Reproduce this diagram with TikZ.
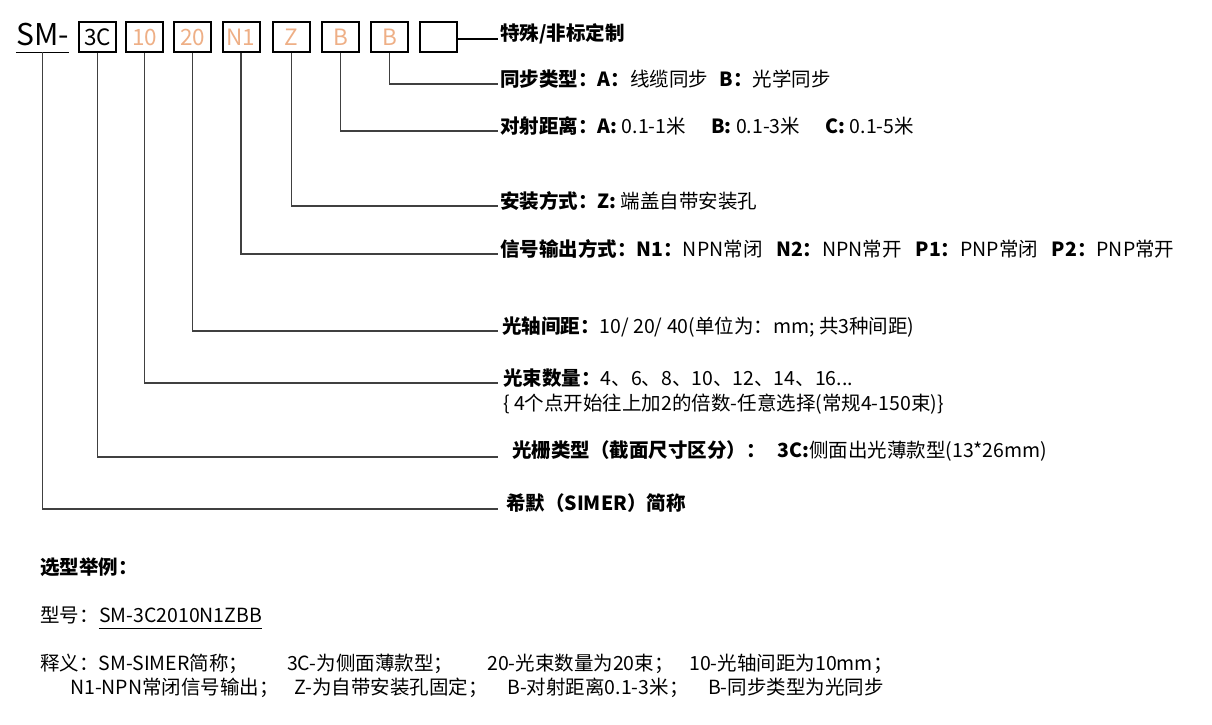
\documentclass[tikz,border=0pt]{standalone}
\usepackage{fontspec}
\setmainfont{Noto Sans CJK SC}
\usetikzlibrary{positioning}
\definecolor{codeor}{RGB}{238,175,134}
\definecolor{leadgr}{RGB}{64,64,64}
\tikzset{
  codebox/.style={draw=black, line width=2pt, minimum width=37pt, minimum height=30pt, inner sep=0pt, text=codeor, font=\fontsize{22.5}{22.5}\selectfont},
  lead/.style={draw=leadgr, line width=1.5pt},
  lab/.style={anchor=base west, inner sep=0pt, font=\fontsize{19.5}{24}\selectfont},
}
\begin{document}
\begin{tikzpicture}[x=1pt, y=-1pt]
  \useasboundingbox (0,0) rectangle (1212,725);
  % model code
  \node[inner sep=0pt, anchor=base, font=\fontsize{30}{30}\selectfont] (sm) at (42.5,46) {SM-};
  \draw[line width=1.5pt] ([yshift=-6.5pt]sm.base west) -- ([yshift=-6.5pt]sm.base east);
  \node[codebox, text=black] (b1) at (97.5,37) {3C};
  \node[codebox] (b2) at (144.5,37) {10};
  \node[codebox] (b3) at (192.5,37) {20};
  \node[codebox] (b4) at (241,37) {N1};
  \node[codebox] (b5) at (291.5,37) {Z};
  \node[codebox] (b6) at (340.5,37) {B};
  \node[codebox] (b7) at (389.5,37) {B};
  \node[codebox] (b8) at (438,37) {};

  % line ends
  \coordinate (e0) at (498,39);
  \coordinate (e1) at (498,84);
  \coordinate (e2) at (498,131);
  \coordinate (e3) at (498,206);
  \coordinate (e4) at (498,254);
  \coordinate (e5) at (498,331);
  \coordinate (e6) at (498,383);
  \coordinate (e7) at (498,457);
  \coordinate (e8) at (498,509);

  \draw[line width=1.5pt] (b8.east |- e0) -- (e0);
  \draw[lead] (b7.south) |- (e1);
  \draw[lead] (b6.south) |- (e2);
  \draw[lead] (b5.south) |- (e3);
  \draw[lead] (b4.south) |- (e4);
  \draw[lead] (b3.south) |- (e5);
  \draw[lead] (b2.south) |- (e6);
  \draw[lead] (b1.south) |- (e7);
  \draw[lead] ([yshift=-6.5pt]sm.base) |- (e8);

  % labels
  \node[lab] (t0) at (500,41) {\bfseries 特殊/非标定制};
  \node[lab] (t1) at (500,86) {\textbf{同步类型：A：}线缆同步\hspace{.6em}\textbf{B：}光学同步};
  \node[lab] (t2) at (500,133) {\textbf{对射距离：A:} 0.1-1米\hspace{1.3em}\textbf{B:} 0.1-3米\hspace{1.3em}\textbf{C:} 0.1-5米};
  \node[lab] (t3) at (500,208) {\textbf{安装方式：Z:} 端盖自带安装孔};
  \node[lab] (t4) at (500,256) {\textbf{信号输出方式：N1：}NPN常闭\hspace{.7em}\textbf{N2：}NPN常开\hspace{.7em}\textbf{P1：}PNP常闭\hspace{.7em}\textbf{P2：}PNP常开};
  \node[lab] (t5) at (502,333) {\textbf{光轴间距：}10/ 20/ 40(单位为：mm; 共3种间距)};
  \node[lab] (t6) at (503,385) {\textbf{光束数量：}4、6、8、10、12、14、16...};
  \node[lab] (t6b) at (503,410) {\{ 4个点开始往上加2的倍数-任意选择(常规4-150束)\}};
  \node[lab] (t7) at (512,457) {\textbf{光栅类型（截面尺寸区分）：\hspace{.6em}3C:}侧面出光薄款型(13*26mm)};
  \node[lab] (t8) at (506,510) {\bfseries 希默（SIMER）简称};

  % example
  \node[lab] (ex) at (40,574) {\bfseries 选型举例：};
  \node[lab] (md) at (40,622) {型号：};
  \node[lab, anchor=base west] (mc) at (md.base east) {SM-3C2010N1ZBB};
  \draw[line width=1pt] ([yshift=-6pt]mc.base west) -- ([yshift=-6pt]mc.base east);
  \node[lab] (sy1) at (40,670) {释义：SM-SIMER简称；\hspace{2em}3C-为侧面薄款型；\hspace{1.75em}20-光束数量为20束；\hspace{.8em}10-光轴间距为10mm；};
  \node[lab] (sy2) at (70,694) {N1-NPN常闭信号输出；\hspace{.8em}Z-为自带安装孔固定；\hspace{1em}B-对射距离0.1-3米；\hspace{1em}B-同步类型为光同步};
\end{tikzpicture}
\end{document}
